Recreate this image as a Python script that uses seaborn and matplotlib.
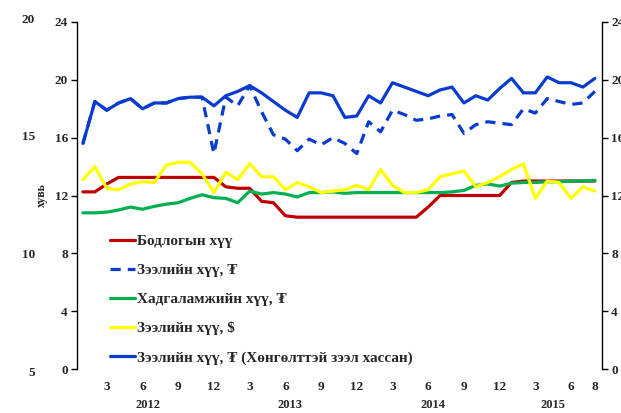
import matplotlib
matplotlib.use("Agg")
import matplotlib.pyplot as plt
import matplotlib.transforms as mtransforms
import seaborn as sns
import pandas as pd
import numpy as np

# ---- data (monthly, 2012-01 .. 2015-08) ----
months = list(range(44))
policy_rate = [12.25, 12.25, 12.8, 13.25, 13.25, 13.25, 13.25, 13.25, 13.25, 13.25,
               13.25, 13.25, 12.6, 12.5, 12.5, 11.6, 11.5, 10.6,
               10.5, 10.5, 10.5, 10.5, 10.5, 10.5, 10.5, 10.5, 10.5, 10.5, 10.5,
               11.2, 12.0, 12.0, 12.0, 12.0, 12.0, 12.0, 12.9,
               13.0, 13.0, 13.0, 13.0, 13.0, 13.0, 13.0]
loan_mnt = [15.6, 18.5, 17.9, 18.4, 18.7, 18.0, 18.4, 18.4, 18.7, 18.8, 18.8, 14.9,
            18.8, 18.2, 19.6, 17.8, 16.2, 15.9, 15.1, 15.9, 15.5, 16.0, 15.6, 14.9,
            17.1, 16.4, 17.9, 17.6, 17.2, 17.3, 17.5, 17.6, 16.3, 16.9, 17.1, 17.0,
            16.9, 18.0, 17.7, 18.7, 18.5, 18.3, 18.4, 19.2]
deposit_mnt = [10.8, 10.8, 10.85, 11.0, 11.2, 11.05, 11.25, 11.4, 11.5, 11.8, 12.05, 11.85,
               11.8, 11.5, 12.3, 12.1, 12.2, 12.1, 11.9, 12.2, 12.2, 12.25, 12.15, 12.2,
               12.2, 12.2, 12.2, 12.2, 12.2, 12.2, 12.2, 12.25, 12.35, 12.7, 12.8, 12.65,
               12.85, 12.9, 12.9, 12.95, 12.95, 13.0, 13.0, 13.05]
loan_usd = [13.1, 14.0, 12.5, 12.4, 12.8, 12.95, 12.9, 14.1, 14.3, 14.3, 13.5, 12.2,
            13.6, 13.1, 14.2, 13.3, 13.3, 12.4, 12.9, 12.6, 12.2, 12.3, 12.4, 12.7,
            12.4, 13.8, 12.7, 12.2, 12.2, 12.4, 13.3, 13.5, 13.7, 12.6, 12.9, 13.3,
            13.8, 14.2, 11.8, 13.0, 12.9, 11.8, 12.6, 12.3]
loan_mnt_excl = [15.6, 18.5, 17.9, 18.4, 18.7, 18.0, 18.4, 18.4, 18.7, 18.8, 18.8, 18.2,
                 18.9, 19.2, 19.6, 19.1, 18.5, 17.9, 17.4, 19.1, 19.1, 18.9, 17.4, 17.5,
                 18.9, 18.4, 19.8, 19.5, 19.2, 18.9, 19.3, 19.5, 18.4, 18.9, 18.6, 19.4,
                 20.1, 19.1, 19.1, 20.2, 19.8, 19.8, 19.5, 20.1]

labels = ["Бодлогын хүү", "Зээлийн хүү, ₮", "Хадгаламжийн хүү, ₮",
          "Зээлийн хүү, $", "Зээлийн хүү, ₮ (Хөнгөлттэй зээл хассан)"]
series = [policy_rate, loan_mnt, deposit_mnt, loan_usd, loan_mnt_excl]
colors = ["#C00000", "#0A3BD1", "#00B050", "#FFFF00", "#0A3BD1"]
styles = ["-", "--", "-", "-", "-"]

tick_pos = [2, 5, 8, 11, 14, 17, 20, 23, 26, 29, 32, 35, 38, 41, 43]
tick_lbl = ["3", "6", "9", "12", "3", "6", "9", "12", "3", "6", "9", "12", "3", "6", "8"]
year_pos = [5.5, 17.4, 29.4, 39.5]
year_lbl = ["2012", "2013", "2014", "2015"]
stray_vals = ["20", "15", "10", "5"]

sns.set_style("white")
plt.rcParams['font.family'] = ['Liberation Serif', 'DejaVu Serif']
plt.rcParams['font.weight'] = 'bold'

fig = plt.figure(figsize=(6.21, 4.13), dpi=100)
ax = fig.add_axes([77/621, 1-369/413, (602-77)/621, (369-22)/413])

lw = 2.3
for lab, vals, c, ls in zip(labels, series, colors, styles):
    df = pd.DataFrame({"m": months, "v": vals})
    sns.lineplot(data=df, x="m", y="v", ax=ax, color=c, linewidth=lw,
                 label=lab, zorder=3)
    line = ax.get_lines()[-1]
    line.set_solid_joinstyle('round')
    line.set_solid_capstyle('round')
    if ls == "--":
        line.set_dashes([3.2, 2.2])
        line.set_dash_capstyle('butt')

ax.set_xlim(-0.5, 43.6)
ax.set_ylim(0, 24)
ax.set_yticks(range(0, 25, 4))
ax.set_xticks(tick_pos)
ax.set_xticklabels(tick_lbl)
ax.set_xlabel("")
ax.set_ylabel("")
for s in ["top", "bottom", "right"]:
    ax.spines[s].set_visible(False)
ax.spines["left"].set_color("black")
ax.spines["left"].set_linewidth(1.0)
ax.tick_params(axis="y", direction="out", length=4, width=1, color="black",
               labelsize=9.5, pad=2.5, left=True)
ax.tick_params(axis="x", length=0, labelsize=9.5, pad=9)
for t in ax.get_xticklabels() + ax.get_yticklabels():
    t.set_fontweight('bold')

ax2 = ax.twinx()
ax2.set_ylim(0, 24)
ax2.set_yticks(range(0, 25, 4))
for s in ["top", "bottom", "left"]:
    ax2.spines[s].set_visible(False)
ax2.spines["right"].set_color("black")
ax2.spines["right"].set_linewidth(1.0)
ax2.tick_params(axis="y", direction="out", length=4, width=1, color="black",
                labelsize=9.5, pad=2.5, right=True)
for t in ax2.get_yticklabels():
    t.set_fontweight('bold')
ax2.grid(False)

trans = mtransforms.blended_transform_factory(ax.transData, fig.transFigure)
for p, l in zip(year_pos, year_lbl):
    ax.text(p, 1 - 405/413, l, transform=trans, ha="center", va="center",
            fontsize=9, fontweight="bold")

for k, v in enumerate(stray_vals):
    fig.text(35/621, 1 - (20 + 117.5*k)/413, v, ha="right", va="center",
             fontsize=9.5, fontweight="bold")
fig.text(42/621, 1 - 195/413, "хувь", rotation=90, ha="center", va="center",
         fontsize=8.5, fontweight="bold")

leg = ax.legend(loc="upper left", bbox_to_anchor=(0.052, 0.405), frameon=False,
                fontsize=11, handlelength=1.6, handletextpad=0.15,
                labelspacing=1.0, borderaxespad=0)
for t in leg.get_texts():
    t.set_fontweight('bold')
for h in leg.legend_handles:
    h.set_linewidth(2.3)

fig.savefig("out.png", dpi=100)
